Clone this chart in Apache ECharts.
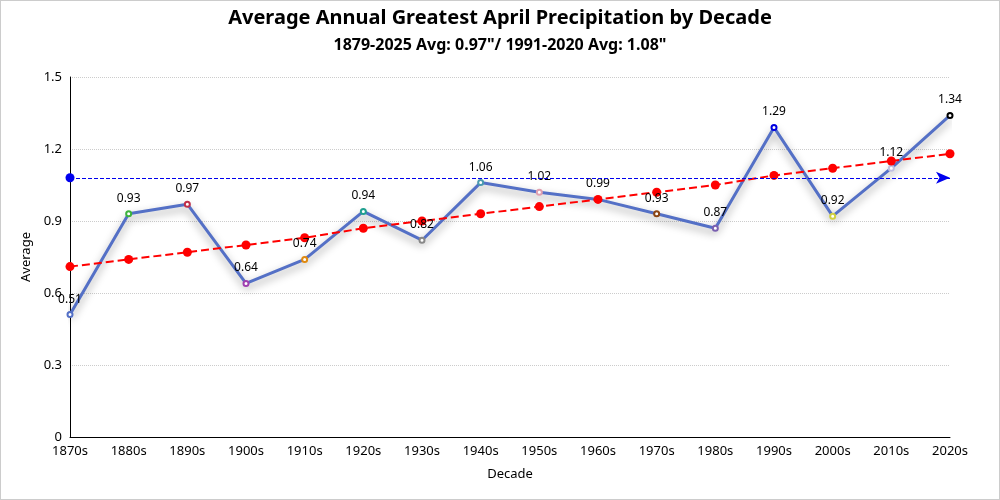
<!DOCTYPE html>
<html><head><meta charset="utf-8">
<script src="https://cdn.jsdelivr.net/npm/echarts@6/dist/echarts.min.js"></script>
<style>html,body{margin:0;padding:0;background:#fff}#c{width:998px;height:498px;border:1px solid #ccc}</style>
</head><body><div id="c"></div>
<script>
const categories = ['1870s','1880s','1890s','1900s','1910s','1920s','1930s','1940s','1950s','1960s','1970s','1980s','1990s','2000s','2010s','2020s'];
const averages = [0.51,0.93,0.97,0.64,0.74,0.94,0.82,1.06,1.02,0.99,0.93,0.87,1.29,0.92,1.12,1.34];
const trend = [0.71,0.74,0.77,0.80,0.83,0.87,0.90,0.93,0.96,0.99,1.02,1.05,1.09,1.12,1.15,1.18];
const pointColors = ['#5470c6','#3cb33c','#c0304a','#a040b0','#e08a10','#20a090','#888888','#4a9ab0','#e0a0b0','#a07a50','#8b4513','#7a60b0','#0000e0','#d0d040','#c0c0e0','#000000'];
const normal = 1.08;
const yTicks = [0,0.3,0.6,0.9,1.2,1.5];

const font = '"Noto Sans", "Open Sans", sans-serif';
const chart = echarts.init(document.getElementById('c'));
chart.setOption({
  animation:false,
  textStyle:{fontFamily:font},
  title:{
    text:'Average Annual Greatest April Precipitation by Decade',
    subtext:'1879-2025 Avg: 0.97"/ 1991-2020 Avg: 1.08"',
    left:'center', top:2, itemGap:9,
    textStyle:{fontSize:20,fontWeight:'bold',color:'#000',fontFamily:font},
    subtextStyle:{fontSize:16,fontWeight:'bold',color:'#000',fontFamily:font}
  },
  grid:{left:69,right:49,top:76,bottom:62,containLabel:false},
  xAxis:{
    type:'category', data:categories, boundaryGap:false,
    name:'Decade', nameLocation:'middle', nameGap:31,
    nameTextStyle:{fontSize:13,color:'#000'},
    axisLine:{lineStyle:{color:'#000'}},
    axisTick:{show:false},
    axisLabel:{color:'#000',fontSize:13,margin:8}
  },
  yAxis:{
    type:'value', min:yTicks[0], max:yTicks[yTicks.length-1], interval:0.3,
    name:'Average', nameLocation:'middle', nameGap:21,
    nameTextStyle:{fontSize:13,color:'#000'},
    axisLine:{show:true,lineStyle:{color:'#000'}},
    axisTick:{show:false},
    axisLabel:{color:'#000',fontSize:13,margin:8},
    splitLine:{lineStyle:{color:'#ccc',type:'dotted'}}
  },
  series:[
    {
      type:'line', data:averages.map((v,i)=>({value:v,itemStyle:{color:pointColors[i],borderColor:pointColors[i]}})),
      symbol:'emptyCircle', symbolSize:5,
      lineStyle:{color:'#5470c6',width:3,shadowColor:'rgba(0,0,0,0.4)',shadowBlur:8,shadowOffsetY:4},
      itemStyle:{borderWidth:2},
      label:{show:true,position:'top',color:'#000',fontSize:12,distance:6},
      markLine:{
        silent:true,
        symbol:['circle','arrow'], symbolSize:[9,14],
        lineStyle:{color:'#0000ee',type:'dashed',width:1},
        label:{show:false},
        data:[{yAxis:normal}]
      }
    },
    {
      type:'line', data:trend,
      symbol:'circle', symbolSize:9,
      itemStyle:{color:'#ff0000'},
      lineStyle:{color:'#ff0000',width:2,type:'dashed'}
    }
  ]
});
</script></body></html>
